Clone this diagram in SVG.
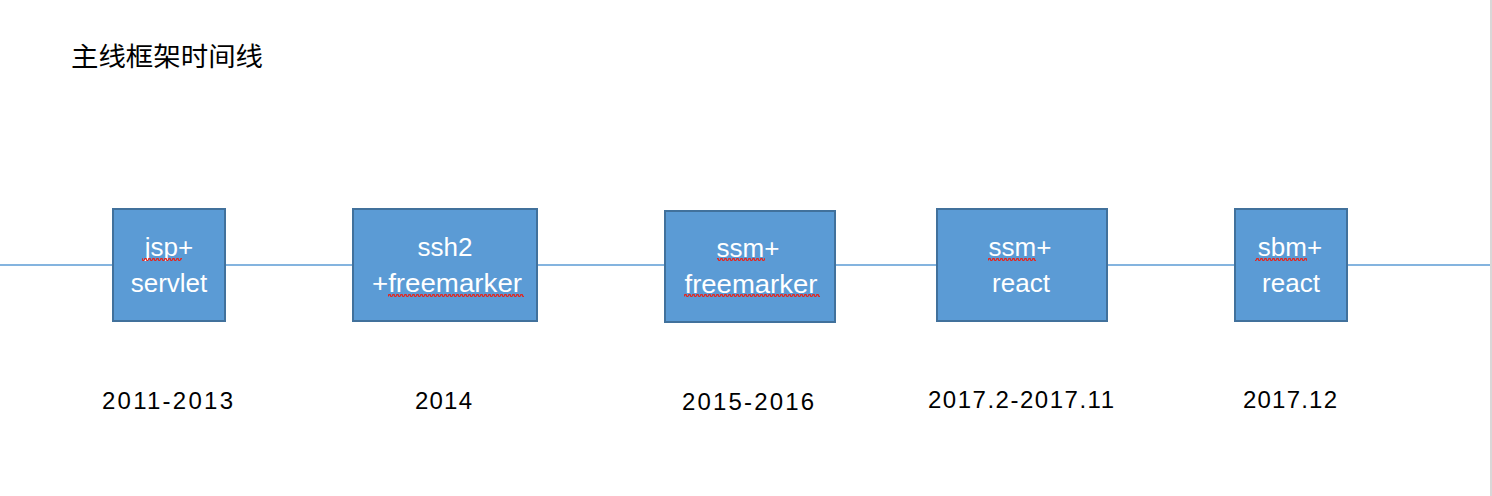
<svg xmlns="http://www.w3.org/2000/svg" width="1492" height="496" viewBox="0 0 1492 496">
<style>
.box{fill:#5B9BD5;stroke:#41719C;stroke-width:2}
.lbl{font-family:"Liberation Sans","Noto Sans CJK SC",sans-serif;font-size:26px;fill:#ffffff;text-anchor:middle}
.date{font-family:"Liberation Sans","Noto Sans CJK SC",sans-serif;font-size:24px;fill:#000000;text-anchor:middle}
.title{font-family:"Noto Sans CJK SC","Liberation Sans",sans-serif;font-size:26px;fill:#000000}
.tl{stroke:#5B9BD5;stroke-width:1.5;fill:none}
.wave{fill:url(#wave)}
</style>
<defs>
<pattern id="wave" width="4" height="3" patternUnits="userSpaceOnUse">
<path d="M0,2.6 L1,0.4 L2,0.4 L3,2.6 L4,2.6" stroke="#E3261F" stroke-width="1.3" fill="none"/>
</pattern>
</defs>
<rect width="1492" height="496" fill="#ffffff"/>
<rect x="1490" y="0" width="2" height="496" fill="#D8D8D8"/>
<text class="title" x="71" y="66" textLength="192" lengthAdjust="spacingAndGlyphs">主线框架时间线</text>
<g id="connectors">
<line class="tl" x1="0" y1="265" x2="1490" y2="265"/>
</g>
<g id="n1">
<rect class="box" x="113" y="209" width="112" height="112"/>
<text class="lbl" x="169" y="256">jsp+</text>
<text class="lbl" x="169" y="292">servlet</text>
<rect class="wave" x="142" y="258" width="40" height="3"/>
</g>
<g id="n2">
<rect class="box" x="353" y="209" width="184" height="112"/>
<text class="lbl" x="445" y="256">ssh2</text>
<text class="lbl" x="447" y="292" textLength="150" lengthAdjust="spacingAndGlyphs">+freemarker</text>
<rect class="wave" x="388" y="294" width="136" height="3"/>
</g>
<g id="n3">
<rect class="box" x="665" y="211" width="170" height="111"/>
<text class="lbl" x="748" y="257">ssm+</text>
<text class="lbl" x="751" y="293" textLength="133" lengthAdjust="spacingAndGlyphs">freemarker</text>
<rect class="wave" x="684" y="294" width="136" height="3"/>
<rect class="wave" x="717" y="258" width="48" height="3"/>
</g>
<g id="n4">
<rect class="box" x="937" y="209" width="170" height="112"/>
<text class="lbl" x="1020" y="256">ssm+</text>
<text class="lbl" x="1021" y="292">react</text>
<rect class="wave" x="988" y="258" width="48" height="3"/>
</g>
<g id="n5">
<rect class="box" x="1235" y="209" width="112" height="112"/>
<text class="lbl" x="1290" y="256">sbm+</text>
<text class="lbl" x="1291" y="292">react</text>
<rect class="wave" x="1255" y="258" width="52" height="3"/>
</g>
<g id="dates">
<text class="date" x="167.5" y="409" textLength="131" lengthAdjust="spacing">2011-2013</text>
<text class="date" x="443.5" y="409" textLength="57" lengthAdjust="spacing">2014</text>
<text class="date" x="748" y="410" textLength="132" lengthAdjust="spacing">2015-2016</text>
<text class="date" x="1021" y="408" textLength="186" lengthAdjust="spacing">2017.2-2017.11</text>
<text class="date" x="1290" y="408" textLength="94" lengthAdjust="spacing">2017.12</text>
</g>
</svg>
